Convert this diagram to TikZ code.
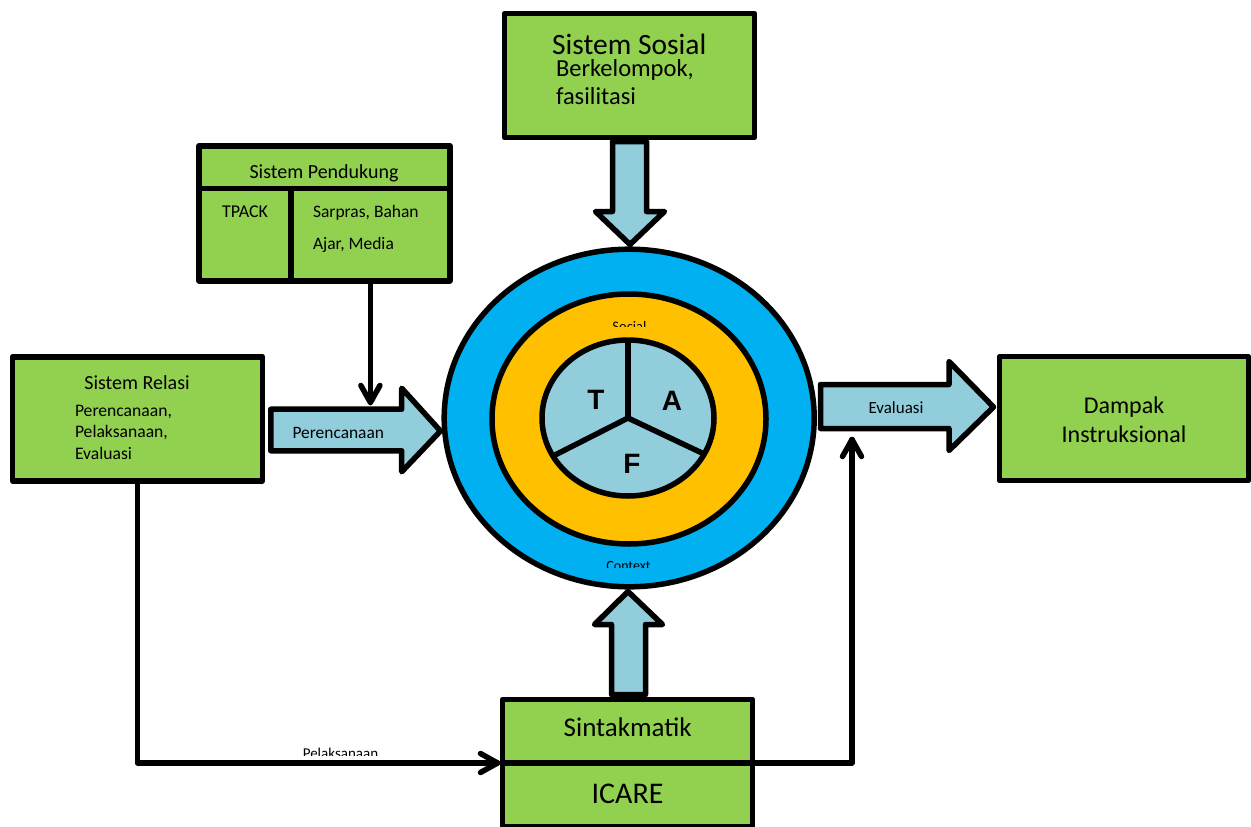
\documentclass[tikz,border=0pt]{standalone}
\usepackage{fontspec}
\setmainfont{Carlito}
\newfontfamily\tafont{Liberation Sans}
\usetikzlibrary{arrows.meta,shapes.geometric}
\definecolor{boxgreen}{HTML}{92D050}
\definecolor{paleblue}{HTML}{92CDDC}
\definecolor{ringblue}{HTML}{00B0F0}
\definecolor{ringorange}{HTML}{FFC000}
\pgfarrowsdeclare{vbarb}{vbarb}{\pgfarrowsleftextend{-17pt}\pgfarrowsrightextend{0pt}}{%
  \pgfsetroundcap\pgfsetroundjoin\pgfsetdash{}{0pt}%
  \pgfpathmoveto{\pgfpoint{-17pt}{9.5pt}}%
  \pgfpathlineto{\pgfpointorigin}%
  \pgfpathlineto{\pgfpoint{-17pt}{-9.5pt}}%
  \pgfusepathqstroke}
\tikzset{
  x=1pt,y=-1pt,
  ink/.style={line width=5.5pt,line join=round,draw=black},
  greenbox/.style={ink,fill=boxgreen,rectangle,inner sep=0pt,outer sep=0pt,align=center},
  blockarrow/.style={ink,fill=paleblue},
  ring/.style={ink,ellipse,inner sep=0pt,outer sep=0pt},
  link/.style={ink,line cap=round,-vbarb},
  txt/.style={inner sep=0pt,outer sep=0pt,text=black},
  fs/.style={font=\fontsize{#1}{#1}\selectfont},
  letter/.style={txt,font=\fontsize{28}{28}\selectfont\tafont\bfseries},
}
\begin{document}
\begin{tikzpicture}
\useasboundingbox (0,0) rectangle (1251,827);
% block arrows
\draw[blockarrow] (612.5,141.5) -- (646.5,141.5) -- (646.5,211.5) -- (664.5,211.5) -- (630,244.5) -- (595.5,211.5) -- (612.5,211.5) -- cycle;
\draw[blockarrow] (611.5,694.5) -- (645.5,694.5) -- (645.5,624.5) -- (662.5,624.5) -- (628,591.5) -- (594.5,624.5) -- (611.5,624.5) -- cycle;
\draw[blockarrow] (270.8,409.2) -- (401.7,409.2) -- (401.7,388.2) -- (440.5,431) -- (401.7,471.8) -- (401.7,450.8) -- (270.8,450.8) -- cycle;
\draw[blockarrow] (820.5,384.5) -- (949,384.5) -- (949,361.5) -- (993.5,407) -- (949,450.5) -- (949,428.5) -- (820.5,428.5) -- cycle;
% green boxes
\node[greenbox,minimum width=250pt,minimum height=124pt] (sosial) at (629.5,75.5) {};
\node[greenbox,minimum width=250.6pt,minimum height=42.5pt] (pendhead) at (324.5,167) {};
\node[greenbox,minimum width=91.8pt,minimum height=92.5pt] (pendleft) at (245.1,234.5) {};
\node[greenbox,minimum width=158.8pt,minimum height=92.5pt] (pendright) at (370.4,234.5) {};
\node[greenbox,minimum width=250pt,minimum height=124pt] (relasi) at (137.5,418.8) {};
\node[greenbox,minimum width=249pt,minimum height=124pt] (dampak) at (1124,418.5) {};
\node[greenbox,minimum width=250pt,minimum height=63.5pt] (sintak) at (627.5,731.25) {};
\node[greenbox,minimum width=250pt,minimum height=63.5pt] (icare) at (627.5,794.75) {};
% rings
\node[ring,fill=ringblue,minimum width=370pt,minimum height=337.6pt] (outer) at (629.2,418) {};
\node[ring,fill=ringorange,minimum width=274pt,minimum height=250pt] (middle) at (629,419) {};
\node[ring,fill=paleblue,minimum width=172pt,minimum height=156pt] (inner) at (628,418) {};
\coordinate (hub) at (628,418);
\coordinate (spokeL) at (555,455);
\coordinate (spokeR) at (702,453);
\draw[ink] (hub) -- (inner.north);
\draw[ink] (hub) -- (spokeL);
\draw[ink] (hub) -- (spokeR);
\node[letter] (t) at (596,400) {T};
\node[letter] (a) at (672,401) {A};
\node[letter] (f) at (632,464) {F};
% clipped labels
\begin{scope}
\clip (590,310) rectangle (670,326.8);
\node[txt,fs=14.5,anchor=base] (social) at (629.5,331) {Social};
\end{scope}
\begin{scope}
\clip (590,550) rectangle (670,567.5);
\node[txt,fs=14,anchor=base] (context) at (628.5,570) {Context};
\end{scope}
\begin{scope}
\clip (290,740) rectangle (390,755.5);
\node[txt,fs=15,anchor=base] (pelak) at (340.5,758) {Pelaksanaan};
\end{scope}
% texts
\node[txt,fs=29.5,anchor=base] (s1) at (629.2,54.3) {Sistem Sosial};
\node[txt,fs=24.5,anchor=base west] (s2) at (556,76) {Berkelompok,};
\node[txt,fs=24.5,anchor=base west] (s3) at (556,104) {fasilitasi};
\node[txt,fs=20,anchor=base] (p1) at (324,178) {Sistem Pendukung};
\node[txt,fs=18,anchor=base] (p2) at (245,217) {TPACK};
\node[txt,fs=17.5,anchor=base west] (p3) at (313,217) {Sarpras, Bahan};
\node[txt,fs=17.5,anchor=base west] (p4) at (313,249) {Ajar, Media};
\node[txt,fs=20,anchor=base] (r1) at (137,389) {Sistem Relasi};
\node[txt,fs=17.6,anchor=base west] (r2) at (75,416) {Perencanaan,};
\node[txt,fs=17.6,anchor=base west] (r3) at (75,437) {Pelaksanaan,};
\node[txt,fs=17.6,anchor=base west] (r4) at (75,459) {Evaluasi};
\node[txt,fs=17.4,anchor=base] (lp) at (338.3,438) {Perencanaan};
\node[txt,fs=17,anchor=base] (le) at (896,413) {Evaluasi};
\node[txt,fs=24,anchor=base] (d1) at (1124,413) {Dampak};
\node[txt,fs=24,anchor=base] (d2) at (1124,442) {Instruksional};
\node[txt,fs=27,anchor=base] (i1) at (627.7,736) {Sintakmatik};
\node[txt,fs=30,anchor=base] (i2) at (627.5,803) {ICARE};
% connectors
\coordinate (perTop) at (370.4,402.5);
\coordinate (bendA) at (relasi.south |- sintak.south west);
\coordinate (sintakIn) at (497.5,763);
\coordinate (bendB) at (852,763);
\coordinate (evalEnd) at (852,439.5);
\draw[link] (pendright.south) -- (perTop);
\draw[link] (relasi.south) -- (bendA) -- (sintakIn);
\draw[link] (sintak.south east) -- (bendB) -- (evalEnd);
\end{tikzpicture}
\end{document}
